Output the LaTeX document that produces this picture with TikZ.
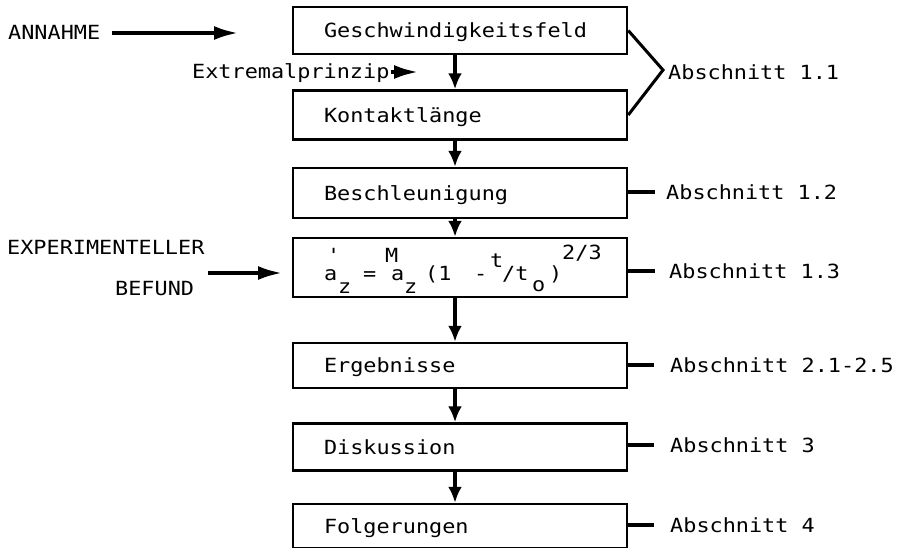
\documentclass[tikz,border=0pt]{standalone}
\usepackage{fontspec}
\usetikzlibrary{arrows.meta}
\newfontfamily\tw[FakeStretch=1.12]{DejaVu Sans Mono}
\newcommand{\twf}{\tw\fontsize{19.5pt}{22pt}\selectfont}
\tikzset{
  stepbox/.style={draw, line width=2.5pt, minimum width=334pt, text width=272pt,
    inner xsep=31pt, inner ysep=0pt, align=left, text height=14pt, text depth=0pt, font=\twf},
  lab/.style={font=\twf, inner sep=0pt, text height=14pt, text depth=0pt, anchor=west},
  fp/.style={font=\twf, inner sep=0pt, anchor=base west},
  varrow/.style={line width=3.5pt, -{Latex[length=16pt,width=14pt]}},
  harrow/.style={line width=3.5pt, -{Latex[length=24pt,width=14pt]}},
  tick/.style={line width=3.5pt},
  brack/.style={line width=3pt, line join=miter},
}
\begin{document}
\begin{tikzpicture}[x=1pt,y=-1pt]
\useasboundingbox (0,0) rectangle (899,547);
\fill[white] (0,0) rectangle (899,547);
\clip (0,0) rectangle (899,547);

% boxes
\node[stepbox, minimum height=47pt] (b1) at (460,30.5) {Geschwindigkeitsfeld};
\node[stepbox, minimum height=49pt] (b2) at (460,115) {Kontaktlänge};
\node[stepbox, minimum height=50pt] (b3) at (460,193) {Beschleunigung};
\node[stepbox, minimum height=59pt] (b4) at (460,267.5) {};
\node[stepbox, minimum height=45pt] (b5) at (460,365.5) {Ergebnisse};
\node[stepbox, minimum height=47pt] (b6) at (460,447) {Diskussion};
\node[stepbox, minimum height=44pt] (b7) at (460,526) {Folgerungen};

% formula
\node[fp] (fa1) at (324,280) {a};
\node[fp] (fq) at (327,262) {'};
\node[fp] (fz1) at (338,293) {z};
\node[fp] (feq) at (363,280) {=};
\node[fp] (fM) at (385,262) {M};
\node[fp] (fa2) at (391,280) {a};
\node[fp] (fz2) at (404,293) {z};
\node[fp] (fpar) at (425,280) {(1};
\node[fp] (fmin) at (474,280) {-};
\node[fp] (ft1) at (490,267) {t};
\node[fp] (fsl) at (502,280) {/t};
\node[fp] (fo) at (532,291) {o};
\node[fp] (fcl) at (549,280) {)};
\node[fp] (fex) at (562,259) {2/3};

% vertical arrows
\draw[varrow] ([xshift=-5pt]b1.south) -- ([xshift=-5pt]b2.north);
\draw[varrow] ([xshift=-5pt]b2.south) -- ([xshift=-5pt]b3.north);
\draw[varrow] ([xshift=-5pt]b3.south) -- ([xshift=-5pt]b4.north);
\draw[varrow] ([xshift=-5pt]b4.south) -- ([xshift=-5pt]b5.north);
\draw[varrow] ([xshift=-5pt]b5.south) -- ([xshift=-5pt]b6.north);
\draw[varrow] ([xshift=-5pt]b6.south) -- ([xshift=-5pt]b7.north);

% left inputs
\node[lab] (ann) at (8,32) {ANNAHME};
\coordinate (annT) at (238,33);
\draw[harrow] ([shift={(12pt,-1pt)}]ann.east) -- (annT);

\node[lab] (ext) at (192,71) {Extremalprinzip};
\coordinate (extT) at (418,72);
\draw[harrow] ([shift={(1pt,-1pt)}]ext.east) -- (extT);

\node[lab] (exp) at (7,247) {EXPERIMENTELLER};
\node[lab] (bef) at (115,288) {BEFUND};
\coordinate (befT) at (282,273);
\draw[harrow] ([shift={(14pt,15pt)}]bef.east) -- (befT);

% right labels
\node[lab] (a11) at (668,72) {Abschnitt 1.1};
\coordinate (v11) at (663,70);
\draw[brack] (b1.east) -- (v11) -- (b2.east);

\node[lab] (a12) at (666,192) {Abschnitt 1.2};
\draw[tick] (a12.west -| b3.east) -- ([xshift=-11pt]a12.west);

\node[lab] (a13) at (669,271) {Abschnitt 1.3};
\draw[tick] (a13.west -| b4.east) -- ([xshift=-14pt]a13.west);

\node[lab] (a2) at (670,365) {Abschnitt 2.1-2.5};
\draw[tick] (a2.west -| b5.east) -- ([xshift=-16pt]a2.west);

\node[lab] (a3) at (670,445) {Abschnitt 3};
\draw[tick] (a3.west -| b6.east) -- ([xshift=-16pt]a3.west);

\node[lab] (a4) at (670,525) {Abschnitt 4};
\draw[tick] (a4.west -| b7.east) -- ([xshift=-16pt]a4.west);
\end{tikzpicture}
\end{document}
